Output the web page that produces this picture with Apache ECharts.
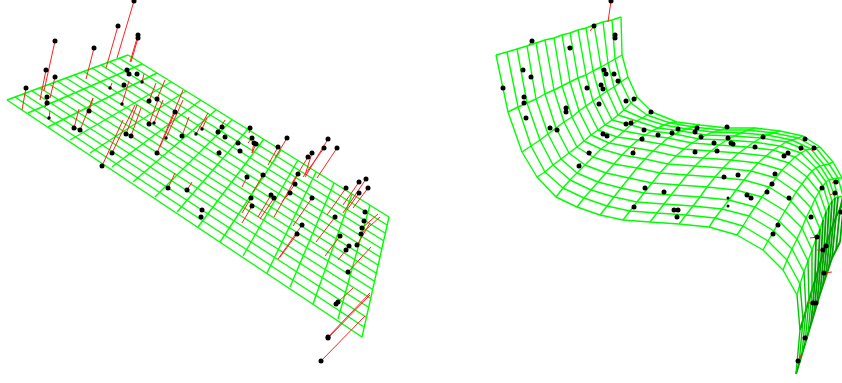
<!DOCTYPE html>
<html>
<head>
<meta charset="utf-8">
<title>Fitted surface, two views</title>
<script src="https://cdn.jsdelivr.net/npm/echarts@6/dist/echarts.min.js"></script>
<style>
  html, body { margin: 0; padding: 0; background: #fff; }
  #chart { width: 842px; height: 383px; }
</style>
</head>
<body>
<div id="chart"></div>
<script>
// left view: the surface is flat, so each grid line is just its two ends
const leftLowerEdge = [[7,100],[28,113],[48,127],[70,140],[90,153],[112,167],[133,182],[155,197],[177,212],[198,227],[220,242],[243,256],[267,273],[290,287],[313,304],[338,319],[362,337]];
const leftUpperEdge = [[128,55],[142,64],[157,73],[171,82],[186,91],[201,100],[216,110],[232,120],[248,129],[264,139],[281,150],[298,160],[316,172],[334,183],[352,194],[370,205],[389,217]];
const leftNearEdge = [[7,100],[15,97],[24,94],[32,91],[40,88],[49,84],[57,81],[66,78],[74,75],[83,71],[92,68],[101,65],[110,62],[119,58],[128,55]];
const leftFarEdge = [[362,337],[364,327],[366,317],[368,307],[370,298],[372,289],[374,281],[376,273],[378,265],[380,257],[382,249],[384,241],[385,233],[387,225],[389,217]];

// left view: data points as [pointX, pointY, footX, footY], foot is where the red stem meets the surface
const leftStems = [
  [134,1,117,58],[118,26,106,68],[138,35,130,62],[138,38,131,62],[94,48,86,79],[55,41,44,91],
  [46,70,40,100],[55,77,50,98],[26,88,22,110],[47,97,46,106],[47,103,45,107],
  [74,128,79,109],[80,130,93,98],[89,111,93,98],[102,166,123,120],[112,153,135,105],[126,134,137,105],
  [131,136,141,108],[149,101,156,83],[157,99,165,80],
  [149,124,158,100],[157,153,183,90],[175,112,160,147],[182,136,189,117],
  [218,132,225,120],[168,188,175,173],[187,190,192,182],[250,128,249,133],
  [252,138,248,143],[219,153,220,150],[254,143,252,153],[256,144,252,153],[278,147,268,165],[287,138,275,158],
  [308,157,292,183],[312,153,305,175],[328,139,305,177],[324,148,303,177],[337,148,317,178],[247,177,242,187],
  [263,175,253,192],[298,174,274,217],[295,184,282,202],[290,193,283,200],[251,198,242,213],[252,206,242,223],
  [271,195,258,217],[274,198,260,219],[312,198,293,226],[302,225,278,259],[297,234,280,257],[335,217,316,242],
  [340,236,325,256],[346,188,327,215],[359,182,343,205],[366,179,343,213],[368,188,353,208],[359,193,347,210],
  [362,228,378,214],[361,234,380,217],[357,245,370,223],[346,250,338,260],[348,272,371,247],[338,302,353,288],
  [328,337,370,293],[328,338,370,295],[321,361,365,316]
];
// same, for the points under the surface, which show as smaller dots
const leftUnderStems = [[49,118,50,111],[122,104,129,81],[142,82,144,74],[110,88,112,83],[154,123,163,100],[166,138,183,100],[196,134,208,113],[202,129,207,118]];
const leftPlainPoints = [[124,85],[127,70],[129,74],[137,74],[222,127],[225,137],[238,143],[240,151],[202,210],[201,217],[365,212],[364,221],[349,246],[336,304]];

// right view: grid vertices, one list per grid row, x and y apart
const rightX = [
  [496,507,517,527,536,545,554,562,570,578,586,594,603,612,621],
  [508,518,527,536,545,554,562,570,578,586,593,601,608,615,622],
  [522,531,540,548,556,564,572,579,586,593,600,607,614,621,628],
  [537,545,553,561,569,577,584,591,598,605,612,618,624,631,637],
  [556,563,570,577,585,593,601,609,617,624,631,637,642,647,652],
  [577,584,591,598,606,614,622,630,638,645,652,658,664,670,677],
  [600,607,614,621,629,637,645,653,661,668,675,681,687,694,700],
  [623,630,637,644,652,660,668,676,684,692,699,706,713,720,727],
  [650,657,664,671,679,687,695,703,711,719,727,734,741,748,755],
  [679,686,693,700,707,715,723,731,739,747,754,761,767,774,780],
  [709,715,722,729,736,744,751,758,766,773,780,786,792,798,803],
  [737,743,749,755,762,769,776,782,789,795,801,806,811,816,820],
  [763,768,774,779,785,791,796,802,807,812,816,820,824,829,833],
  [783,787,792,797,802,806,811,815,819,823,826,829,833,838,842],
  [797,800,804,808,812,816,820,823,826,829,832,835,838,843,848],
  [800,803,806,809,812,815,818,821,824,827,830,833,836,840,844],
  [796,799,802,805,808,811,814,817,820,823,826,829,832,836,840]
];
const rightY = [
  [55,52,49,46,43,40,38,35,33,30,28,25,22,20,17],
  [112,107,103,99,94,90,86,82,78,75,71,67,63,59,55],
  [152,146,140,134,128,122,117,111,106,101,96,91,87,82,77],
  [177,172,165,159,153,147,141,135,130,125,120,115,110,103,97],
  [197,188,180,173,165,157,149,143,137,131,125,121,118,115,112],
  [207,198,190,182,173,164,155,147,140,135,131,128,125,123,122],
  [215,206,197,188,178,168,159,151,144,138,134,131,129,127,125],
  [220,211,202,193,183,173,164,156,149,143,139,135,132,130,128],
  [222,213,204,195,185,175,166,158,151,145,140,136,133,130,128],
  [224,215,206,197,187,177,168,160,153,147,142,138,135,133,131],
  [227,218,209,200,190,180,171,163,156,150,146,142,140,138,136],
  [235,226,216,207,197,187,178,170,163,157,153,150,149,148,147],
  [250,241,231,221,211,201,192,184,177,171,168,166,165,164,162],
  [270,260,249,239,228,218,208,199,192,186,182,180,179,178,178],
  [295,284,272,261,250,239,229,220,212,206,201,198,197,196,195],
  [330,320,310,300,290,280,270,260,251,242,233,225,217,209,201],
  [374,364,354,344,334,324,314,304,294,285,276,267,258,250,242]
];

const rightPoints = [
  [611,1],[594,26],[615,35],[615,38],[570,48],[532,41],[523,70],[531,77],[503,88],[524,97],[524,103],[526,118],
  [550,128],[557,130],[566,108],[566,112],[579,166],[589,153],[603,134],[607,136],[587,88],[599,104],[601,85],[603,89],
  [604,70],[606,74],[614,74],[618,81],[626,101],[634,99],[651,112],[626,124],[631,123],[644,130],[642,139],[658,135],
  [633,153],[645,188],[664,192],[634,207],[674,210],[678,210],[677,217],[678,129],[672,133],[697,128],[695,132],[727,127],
  [701,137],[714,143],[717,151],[695,152],[728,138],[731,143],[733,144],[724,177],[738,175],[763,137],[755,147],[805,139],
  [801,148],[814,148],[788,153],[784,156],[775,174],[772,184],[767,192],[789,198],[747,195],[751,198],[778,225],[773,234],
  [811,217],[817,237],[826,246],[822,188],[836,182],[835,193],[841,212],[823,250],[824,273],[813,303],[816,303],[805,338],[798,361]
];
const rightSmallPoints = [[728,198],[728,206]];
const rightStems = [
  [611,1,608,22],[594,26,590,31],[570,48,567,47],[532,41,529,45],[634,99,637,97],[631,123,633,120],[644,130,642,128],
  [607,136,604,133],[589,153,592,152],[579,166,581,163],[633,153,635,148],[817,237,810,238],[823,250,817,250],
  [824,273,832,272],[813,303,807,303],[836,182,832,183],[835,193,830,195],[822,188,820,190],[801,148,800,151],[814,148,812,151],
  [811,217,809,219],[805,338,807,335],[798,361,802,353]
];

const GREEN = '#00ff00';
const GREEN_FAN = '#00c800';
const GREEN_BAND = '#00a000';
const RED = '#ff2020';

const meshLine = (points, color, width) => ({
  type: 'line',
  data: points,
  showSymbol: false,
  silent: true,
  z: 2,
  lineStyle: { color: color, width: width || 1.4 }
});

const stemLine = (s) => ({
  type: 'line',
  data: [[s[0], s[1]], [s[2], s[3]]],
  showSymbol: false,
  silent: true,
  z: 3,
  lineStyle: { color: RED, width: 1 }
});

const dotSeries = (points, size) => ({
  type: 'scatter',
  data: points,
  symbolSize: size,
  silent: true,
  z: 4,
  itemStyle: { color: '#000', opacity: 1 }
});

const series = [];

// left surface
leftLowerEdge.forEach((p, i) => series.push(meshLine([p, leftUpperEdge[i]], GREEN)));
leftNearEdge.forEach((p, i) => series.push(meshLine([p, leftFarEdge[i]], GREEN)));

// right surface, the rows that roll away at the end are the dark underside
rightX.forEach((xs, r) => {
  const pts = xs.map((x, c) => [x, rightY[r][c]]);
  series.push(r >= 15 ? meshLine(pts, GREEN_BAND, 2) : meshLine(pts, GREEN));
});
rightX[0].forEach((_, c) => {
  const front = [], back = [];
  rightX.forEach((xs, r) => {
    if (r <= 14) front.push([xs[c], rightY[r][c]]);
    if (r >= 14) back.push([xs[c], rightY[r][c]]);
  });
  series.push(meshLine(front, GREEN));
  series.push(c <= 4 ? meshLine(back, GREEN_FAN) : meshLine(back, GREEN_BAND, 1.8));
});

leftStems.concat(leftUnderStems, rightStems).forEach(s => series.push(stemLine(s)));
series.push(dotSeries(leftStems.map(s => [s[0], s[1]]), 5));
series.push(dotSeries(leftUnderStems.map(s => [s[0], s[1]]), 3.5));
series.push(dotSeries(leftPlainPoints, 5));
series.push(dotSeries(rightPoints, 5));
series.push(dotSeries(rightSmallPoints, 3));

const chart = echarts.init(document.getElementById('chart'));
chart.setOption({
  animation: false,
  backgroundColor: '#fff',
  grid: { left: 0, right: 0, top: 0, bottom: 0 },
  xAxis: { type: 'value', min: 0, max: 842, show: false },
  yAxis: { type: 'value', min: 0, max: 383, inverse: true, show: false },
  series: series
});
</script>
</body>
</html>
